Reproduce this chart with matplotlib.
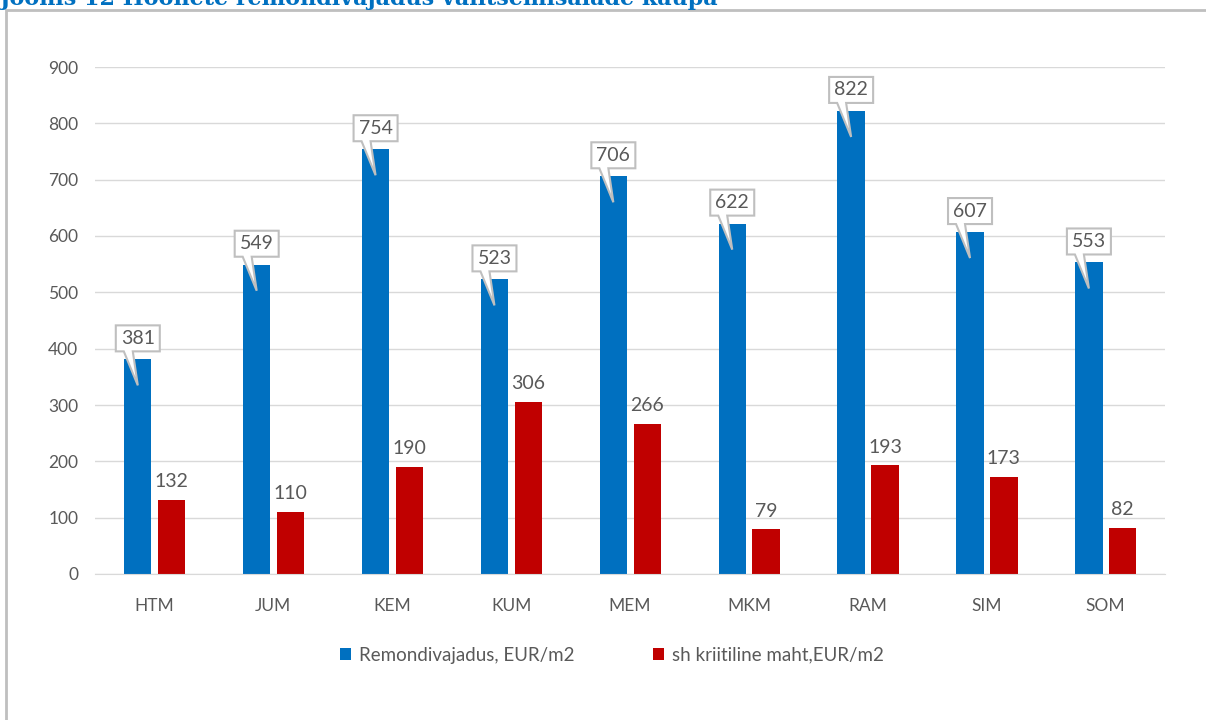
import numpy as np
import matplotlib
matplotlib.use('Agg')
import matplotlib.pyplot as plt
import matplotlib.transforms as mtransforms
from matplotlib.patches import Polygon, Rectangle

categories = ['HTM', 'JUM', 'KEM', 'KUM', 'MEM', 'MKM', 'RAM', 'SIM', 'SOM']
remondivajadus = [381, 549, 754, 523, 706, 622, 822, 607, 553]
kriitiline = [132, 110, 190, 306, 266, 79, 193, 173, 82]
series_names = ['Remondivajadus, EUR/m2', 'sh kriitiline maht,EUR/m2']
title = 'Joonis 12 Hoonete remondivajadus valitsemisalade kaupa'

BLUE = '#0070C0'
RED = '#C00000'
TXT = '#595959'

plt.rcParams['font.family'] = ['Lato', 'DejaVu Sans']

fig = plt.figure(figsize=(12.06, 7.2), dpi=100)
ax = fig.add_axes([95 / 1206, 1 - 574 / 720, 1070 / 1206, 507 / 720])

x = np.arange(len(categories))
w = 0.23
ax.bar(x - 0.14, remondivajadus, w, color=BLUE, label=series_names[0], zorder=2)
ax.bar(x + 0.145, kriitiline, w, color=RED, label=series_names[1], zorder=2)

ax.set_xlim(-0.5, len(categories) - 0.5)
ax.set_ylim(0, 900)
ax.set_yticks(np.arange(0, 901, 100))
ax.set_xticks(x)
ax.set_xticklabels(categories)
ax.tick_params(axis='both', length=0, labelcolor=TXT, labelsize=12.5)
ax.tick_params(axis='y', pad=12)
ax.tick_params(axis='x', pad=17)
ax.grid(axis='y', color='#D9D9D9', linewidth=1, zorder=0)
for s in ['top', 'right', 'left']:
    ax.spines[s].set_visible(False)
ax.spines['bottom'].set_color('#D9D9D9')

# red value labels
for xi, v in zip(x, kriitiline):
    ax.annotate(str(v), (xi + 0.145, v), xytext=(0, 7), textcoords='offset points',
                ha='center', va='bottom', fontsize=14, color=TXT)

# callouts on blue bars (pixel geometry, dpi 100 -> inches = px/100)
verts = np.array([(-22, 8), (-14, 8), (0, -26), (-5, 8), (22, 8), (22, 34), (-22, 34)]) / 100
for xi, v in zip(x, remondivajadus):
    tr = fig.dpi_scale_trans + mtransforms.ScaledTranslation(xi - 0.14, v, ax.transData)
    ax.add_patch(Polygon(verts, closed=True, transform=tr, facecolor='white',
                         edgecolor='#BFBFBF', linewidth=1.5, zorder=3, clip_on=False))
    ax.text(0, 0.21, str(v), transform=tr, ha='center', va='center', fontsize=14,
            color=TXT, zorder=4)

leg = fig.legend(loc='center', bbox_to_anchor=(612 / 1206, 1 - 655 / 720), ncol=2,
                 frameon=False, fontsize=13.5, handlelength=0.6, handleheight=0.6,
                 handletextpad=0.4, columnspacing=4.2)
for t in leg.get_texts():
    t.set_color(TXT)

# outer frame and cropped title (cut off at the top, as in the source)
fig.patches.append(Rectangle((6 / 1206, -0.05), 1.1, 1 - 10 / 720 + 0.05, transform=fig.transFigure,
                             fill=False, edgecolor='#BFBFBF', linewidth=2))
fig.text(0, 1 - 5 / 720, title, ha='left', va='baseline', fontsize=16, fontweight='bold',
         color=BLUE, family='DejaVu Serif')

fig.savefig('out.png', dpi=100)
